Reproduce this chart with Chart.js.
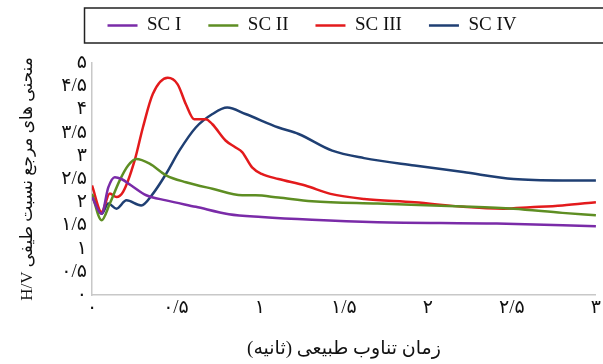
<!DOCTYPE html>
<html>
<head>
<meta charset="utf-8">
<script src="https://cdn.jsdelivr.net/npm/chart.js@4.4.1/dist/chart.umd.min.js"></script>
<style>
  html, body { margin: 0; padding: 0; background: #fff; }
  #wrap { width: 603px; height: 364px; }
  #c { direction: rtl; }
</style>
</head>
<body>
<div id="wrap"><canvas id="c" dir="rtl"></canvas></div>
<script>
// series names and colours
var seriesNames = ['SC I', 'SC II', 'SC III', 'SC IV'];
var seriesColors = ['#7A2BA8', '#5E8E23', '#E31A1C', '#1F3F73'];

// period (s) / H/V ratio
var sc1T = [0, 0.057, 0.097, 0.136, 0.175, 0.234, 0.323, 0.441, 0.618, 0.815, 1.01, 1.31, 1.70, 2.41, 3.0];
var sc1V = [2.11, 1.75, 2.32, 2.54, 2.50, 2.36, 2.15, 2.04, 1.90, 1.74, 1.68, 1.62, 1.57, 1.54, 1.48];

var sc2T = [0, 0.057, 0.106, 0.165, 0.215, 0.264, 0.343, 0.441, 0.559, 0.717, 0.894, 0.973, 1.11, 1.31, 1.70, 2.21, 2.51, 2.80, 3.0];
var sc2V = [2.18, 1.61, 1.97, 2.47, 2.79, 2.93, 2.83, 2.58, 2.43, 2.29, 2.15, 2.15, 2.10, 2.02, 1.97, 1.91, 1.86, 1.77, 1.72];

var sc3T = [0, 0.057, 0.106, 0.146, 0.185, 0.254, 0.303, 0.362, 0.451, 0.51, 0.559, 0.608, 0.677, 0.717, 0.795, 0.855, 0.894, 0.953, 1.01, 1.11, 1.27, 1.42, 1.62, 1.92, 2.21, 2.45, 2.61, 2.80, 3.0];
var sc3V = [2.36, 1.79, 2.19, 2.11, 2.22, 2.90, 3.61, 4.33, 4.68, 4.54, 4.11, 3.79, 3.79, 3.68, 3.33, 3.18, 3.08, 2.75, 2.61, 2.50, 2.36, 2.18, 2.07, 2.00, 1.90, 1.86, 1.89, 1.93, 2.00];

var sc4T = [0, 0.057, 0.097, 0.146, 0.205, 0.293, 0.362, 0.441, 0.52, 0.618, 0.717, 0.805, 0.914, 1.11, 1.23, 1.43, 1.62, 1.92, 2.21, 2.51, 2.80, 3.0];
var sc4V = [2.15, 1.75, 1.97, 1.86, 2.04, 1.93, 2.18, 2.61, 3.11, 3.61, 3.90, 4.04, 3.90, 3.61, 3.47, 3.11, 2.95, 2.79, 2.65, 2.50, 2.47, 2.47];

// Persian tick labels
var yTickLabels = ['۰', '۰/۵', '۱', '۱/۵', '۲', '۲/۵', '۳', '۳/۵', '۴', '۴/۵', '۵'];
var xTickLabels = ['۰', '۰/۵', '۱', '۱/۵', '۲', '۲/۵', '۳'];

var xTitle = 'زمان تناوب طبیعی (ثانیه)';
var yTitle = 'منحنی های مرجع نسبت طیفی H/V';

function pts(t, v) { return t.map(function (x, i) { return { x: x, y: v[i] }; }); }
var allT = [sc1T, sc2T, sc3T, sc4T];
var allV = [sc1V, sc2V, sc3V, sc4V];

var datasets = seriesNames.map(function (n, i) {
    return {
        label: n,
        data: pts(allT[i], allV[i]),
        borderColor: seriesColors[i],
        backgroundColor: seriesColors[i],
        borderWidth: 2.5,
        pointRadius: 0,
        cubicInterpolationMode: 'monotone',
        fill: false
    };
});

// frame drawn around the legend, running off the right edge
var legendFrame = {
    id: 'legendFrame',
    afterDraw: function (chart) {
        var hb = chart.legend && chart.legend.legendHitBoxes;
        if (!hb || !hb.length) return;
        var ctx = chart.ctx;
        var cy = hb[0].top + hb[0].height / 2;
        ctx.save();
        ctx.strokeStyle = '#222';
        ctx.lineWidth = 1.5;
        ctx.strokeRect(hb[0].left - 23, cy - 17.5, chart.width + 20, 35);
        ctx.restore();
    }
};

var font = "'Liberation Serif', 'DejaVu Sans', serif";

new Chart(document.getElementById('c'), {
    type: 'line',
    data: { datasets: datasets },
    plugins: [legendFrame],
    options: {
        responsive: true,
        maintainAspectRatio: false,
        animation: false,
        layout: { padding: { top: -11, right: -5, left: 16, bottom: 0 } },
        plugins: {
            tooltip: { enabled: false },
            legend: {
                position: 'top',
                labels: {
                    usePointStyle: true,
                    pointStyle: 'line',
                    pointStyleWidth: 30,
                    padding: 27,
                    color: '#111',
                    font: { family: font, size: 19 }
                }
            },
            // empty spacer between legend and plot
            subtitle: {
                display: true,
                text: '',
                weight: 500,
                padding: 0,
                font: { size: 18, lineHeight: 1 }
            }
        },
        scales: {
            x: {
                type: 'linear',
                min: 0, max: 3,
                grid: { display: false, drawTicks: false },
                border: { color: '#c8c8c8', width: 1.5 },
                ticks: {
                    stepSize: 0.5,
                    padding: 2,
                    align: 'center',
                    maxRotation: 0,
                    autoSkip: false,
                    color: '#111',
                    font: { family: font, size: 19 },
                    callback: function (v) { return xTickLabels[Math.round(v * 2)]; }
                },
                title: {
                    display: true,
                    text: xTitle,
                    color: '#111',
                    font: { family: font, size: 19 },
                    padding: { top: 10, bottom: 4 }
                },
                afterFit: function (s) { s.height = 69; }
            },
            y: {
                min: 0, max: 5,
                grid: { display: false, drawTicks: false },
                border: { color: '#c8c8c8', width: 1.5 },
                ticks: {
                    stepSize: 0.5,
                    padding: 5,
                    autoSkip: false,
                    color: '#111',
                    font: { family: font, size: 19 },
                    callback: function (v) { return yTickLabels[Math.round(v * 2)]; }
                },
                title: {
                    display: true,
                    text: yTitle,
                    color: '#111',
                    font: { family: font, size: 17 },
                    padding: { top: 1, bottom: 4 }
                },
                afterFit: function (s) { s.width = 76; }
            }
        }
    }
});
</script>
</body>
</html>
